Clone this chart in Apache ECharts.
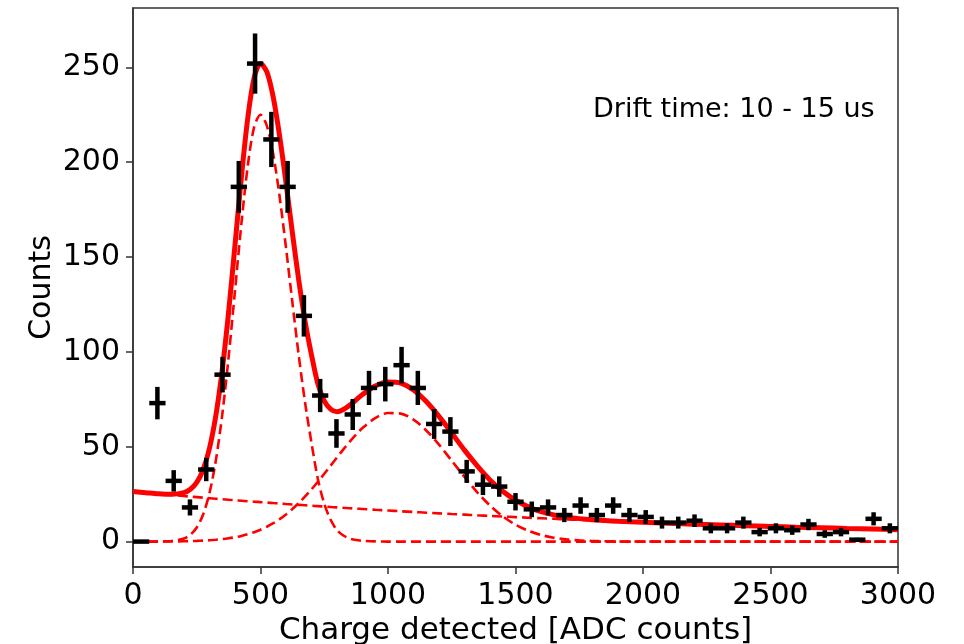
<!DOCTYPE html>
<html>
<head>
<meta charset="utf-8">
<script src="https://cdn.jsdelivr.net/npm/echarts@6/dist/echarts.min.js"></script>
<style>
  html, body { margin: 0; padding: 0; background: #fff; }
  #chart { width: 964px; height: 644px; }
</style>
</head>
<body>
<div id="chart"></div>
<script>
// Histogram of detected charge (drift time 10 - 15 us), bin centres in ADC counts
const binCenters = [31.9, 95.7, 159.6, 223.4, 287.2, 351.1, 414.9, 478.7, 542.6, 606.4,
  670.2, 734.0, 797.9, 861.7, 925.5, 989.4, 1053.2, 1117.0, 1180.9, 1244.7,
  1308.5, 1372.3, 1436.2, 1500.0, 1563.8, 1627.7, 1691.5, 1755.3, 1819.1, 1883.0,
  1946.8, 2010.6, 2074.5, 2138.3, 2202.1, 2266.0, 2329.8, 2393.6, 2457.4, 2521.3,
  2585.1, 2648.9, 2712.8, 2776.6, 2840.4, 2904.3, 2968.1];
const halfBinWidth = 31.9;
const counts = [0, 73, 32, 18, 38, 88, 187, 252, 212, 187,
  119, 77, 57, 67, 81, 83, 93, 81, 62, 58,
  37, 30, 29, 21, 17, 18, 14, 19, 14, 19,
  14, 13, 10, 10, 11, 7, 7, 10, 5, 7,
  6, 9, 4, 5, 1, 12, 7];
// statistical (Poisson) errors on the counts
const countErrors = [0, 8.54, 5.66, 4.24, 6.16, 9.38, 13.67, 15.87, 14.56, 13.67,
  10.91, 8.77, 7.55, 8.19, 9.0, 9.11, 9.64, 9.0, 7.87, 7.62,
  6.08, 5.48, 5.39, 4.58, 4.12, 4.24, 3.74, 4.36, 3.74, 4.36,
  3.74, 3.61, 3.16, 3.16, 3.32, 2.65, 2.65, 3.16, 2.24, 2.65,
  2.45, 3.0, 2.0, 2.24, 1.0, 3.46, 2.65];

// Fit curves sampled along the charge axis
const fitX = [0, 50, 100, 150, 200, 225, 250, 275, 300, 325, 350, 375, 400, 425, 450, 475,
  500, 525, 550, 575, 600, 625, 650, 675, 700, 725, 750, 775, 800, 825, 850, 875, 900,
  950, 1000, 1050, 1100, 1150, 1200, 1250, 1300, 1350, 1400, 1450, 1500, 1550, 1600,
  1650, 1700, 1750, 1800, 1850, 1900, 1950, 2000,
  2100, 2200, 2300, 2400, 2500, 2600, 2700, 2800, 2900, 3000];
// first peak component
const fitPeak1 = [0, 0, 0, 0.27, 1.64, 3.62, 7.45, 14.3, 25.6, 42.9, 66.9, 97.3, 132.2, 167.5, 198.0, 218.5,
  225.0, 219.2, 204.2, 181.8, 154.9, 126.1, 98.1, 73.1, 52.0, 33.0, 20.0, 11.5, 6.0, 3.2, 1.6, 0.8, 0.4,
  0.1, 0, 0, 0, 0, 0, 0, 0, 0, 0, 0, 0, 0, 0,
  0, 0, 0, 0, 0, 0, 0, 0,
  0, 0, 0, 0, 0, 0, 0, 0, 0, 0];
// second peak component
const fitPeak2 = [0, 0, 0, 0.09, 0.18, 0.26, 0.36, 0.51, 0.70, 0.96, 1.29, 1.73, 2.28, 2.99, 3.86, 4.94,
  6.25, 7.82, 9.68, 11.84, 14.33, 17.16, 20.31, 23.78, 27.54, 31.54, 35.73, 40.03, 44.36, 48.61, 52.69, 56.48, 59.88,
  65.12, 67.76, 67.46, 64.27, 58.58, 51.09, 42.63, 34.03, 26.0, 19.0, 13.3, 8.89, 5.70, 3.49,
  2.04, 1.15, 0.62, 0.32, 0.16, 0.07, 0.03, 0.01,
  0, 0, 0, 0, 0, 0, 0, 0, 0, 0];
// falling background component
const fitBackground = [26.40, 25.78, 25.17, 24.58, 23.99, 23.71, 23.43, 23.15, 22.88, 22.60, 22.34, 22.07, 21.81, 21.55, 21.29, 21.04,
  20.79, 20.55, 20.30, 20.06, 19.82, 19.59, 19.36, 19.13, 18.90, 18.68, 18.45, 18.24, 18.02, 17.80, 17.59, 17.38, 17.18,
  16.77, 16.38, 15.99, 15.61, 15.24, 14.88, 14.53, 14.19, 13.85, 13.53, 13.21, 12.90, 12.59, 12.30,
  12.01, 11.72, 11.45, 11.18, 10.91, 10.66, 10.40, 10.16,
  9.68, 9.23, 8.80, 8.39, 8.00, 7.63, 7.27, 6.93, 6.61, 6.30];
// total fit
const fitTotal = [26.4, 25.8, 25.2, 24.9, 25.8, 27.6, 31.2, 38.0, 49.2, 66.5, 90.5, 121.1, 156.3, 192.0, 223.2, 244.5,
  252.0, 247.6, 234.2, 213.7, 189.1, 162.9, 137.8, 116.0, 98.4, 83.2, 74.2, 69.8, 68.4, 69.6, 71.9, 74.7, 77.5,
  82.0, 84.1, 83.5, 79.9, 73.8, 66.0, 57.2, 48.2, 39.9, 32.5, 26.5, 21.8, 18.3, 15.8,
  14.1, 12.9, 12.1, 11.5, 11.1, 10.7, 10.4, 10.2,
  9.7, 9.2, 8.8, 8.4, 8.0, 7.6, 7.3, 6.9, 6.6, 6.3];

const xTicks = [0, 500, 1000, 1500, 2000, 2500, 3000];
const yTicks = [0, 50, 100, 150, 200, 250];
const annotation = 'Drift time: 10 - 15 us';

const FONT = 'DejaVu Sans';
const pairs = (ys) => fitX.map((x, i) => [x, ys[i]]);
const histData = binCenters.map((x, i) => [x, counts[i], countErrors[i]]);

const chart = echarts.init(document.getElementById('chart'), null, { renderer: 'canvas' });

const dashedStyle = { color: '#ff0000', width: 2.6, type: [10, 5] };
const axisColor = '#333';

chart.setOption({
  backgroundColor: '#ffffff',
  animation: false,
  grid: {
    left: 133, right: 66, top: 8, bottom: 77,
    outerBoundsMode: 'none', containLabel: false,
    show: true, borderColor: axisColor, borderWidth: 1.5, backgroundColor: 'transparent'
  },
  xAxis: {
    type: 'value', min: 0, max: 3000,
    name: 'Charge detected [ADC counts]', nameLocation: 'middle', nameGap: 48, nameMoveOverlap: false,
    nameTextStyle: { fontFamily: FONT, fontSize: 31, color: '#000' },
    axisLine: { show: true, onZero: false, lineStyle: { color: axisColor, width: 1.5 } },
    axisTick: { show: true, inside: false, length: 7, lineStyle: { color: axisColor, width: 1.5 }, customValues: xTicks },
    axisLabel: { fontFamily: FONT, fontSize: 30, color: '#000', margin: 14, customValues: xTicks,
      formatter: (v) => String(v) },
    splitLine: { show: false }
  },
  yAxis: {
    type: 'value', min: -13.4, max: 281.3,
    name: 'Counts', nameLocation: 'middle', nameGap: 76, nameMoveOverlap: false,
    nameTextStyle: { fontFamily: FONT, fontSize: 30, color: '#000' },
    axisLine: { show: true, onZero: false, lineStyle: { color: axisColor, width: 1.5 } },
    axisTick: { show: true, inside: false, length: 7, lineStyle: { color: axisColor, width: 1.5 }, customValues: yTicks },
    axisLabel: { fontFamily: FONT, fontSize: 30, color: '#000', margin: 13, customValues: yTicks,
      formatter: (v) => String(v) },
    splitLine: { show: false }
  },
  graphic: [{
    type: 'text', left: 593, top: 96,
    style: { text: annotation, fontFamily: FONT, fontSize: 27, fill: '#000' }
  }],
  series: [
    { name: 'peak1', type: 'line', data: pairs(fitPeak1), showSymbol: false, smooth: 0.3,
      lineStyle: dashedStyle, z: 2 },
    { name: 'peak2', type: 'line', data: pairs(fitPeak2), showSymbol: false, smooth: 0.3,
      lineStyle: dashedStyle, z: 2 },
    { name: 'background', type: 'line', data: pairs(fitBackground), showSymbol: false, smooth: 0.3,
      lineStyle: dashedStyle, z: 2 },
    { name: 'total', type: 'line', data: pairs(fitTotal), showSymbol: false, smooth: 0.3,
      lineStyle: { color: '#ff0000', width: 5 }, z: 3 },
    {
      name: 'data', type: 'custom', data: histData, z: 4,
      renderItem: function (params, api) {
        const x = api.value(0), y = api.value(1), e = api.value(2);
        const c = api.coord([x, y]);
        const top = api.coord([x, y + e]);
        const bot = api.coord([x, y - e]);
        const l = api.coord([x - halfBinWidth, y]);
        const r = api.coord([x + halfBinWidth, y]);
        return {
          type: 'group',
          children: [
            { type: 'line', shape: { x1: c[0], y1: top[1], x2: c[0], y2: bot[1] },
              style: { stroke: '#000', lineWidth: 4.5 } },
            { type: 'line', shape: { x1: l[0], y1: c[1], x2: r[0], y2: c[1] },
              style: { stroke: '#000', lineWidth: 4.5 } }
          ]
        };
      }
    }
  ]
});
</script>
</body>
</html>
